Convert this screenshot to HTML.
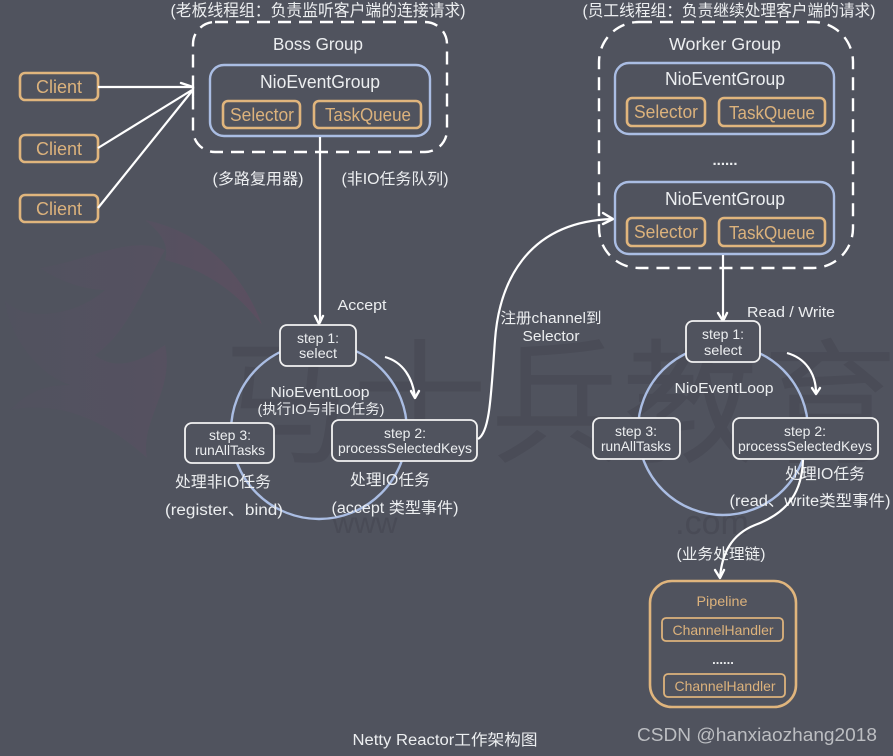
<!DOCTYPE html>
<html><head><meta charset="utf-8"><style>
html,body{margin:0;padding:0;background:#50535e}
svg{display:block;filter:blur(0.35px)}
text{font-family:"Liberation Sans","Noto Sans CJK SC",sans-serif;fill:#eceef0;text-anchor:middle;font-size:15px}
.g{fill:#dcb27c;font-size:18px}
.s{font-size:14px}
.box{fill:none;stroke:#e0b57d;stroke-width:2.6}
.nio{fill:#50535e;stroke:#aabde3;stroke-width:2.4}
.step{fill:#50535e;stroke:#f2f2f2;stroke-width:1.8}
.ln{fill:none;stroke:#fff;stroke-width:2.2}
.dash{fill:none;stroke:#fff;stroke-width:2.4;stroke-dasharray:13 8}
.ring{fill:none;stroke:#aabde3;stroke-width:2.4}
.hd{fill:none;stroke:#fff;stroke-width:2.4;stroke-linecap:round;stroke-linejoin:round}
.wm{font-size:135px;fill:#4a4c57}
</style></head><body>
<svg width="893" height="756" viewBox="0 0 893 756" xmlns="http://www.w3.org/2000/svg">
<defs><linearGradient id="lg" x1="0" y1="0" x2="1" y2="0"><stop offset="0" stop-color="#51525f"/><stop offset="0.55" stop-color="#555160"/><stop offset="1" stop-color="#5b4f60"/></linearGradient></defs>
<rect width="893" height="756" fill="#50535e"/>

<!-- watermark -->
<path d="M145 220C195 230 240 265 262 325C235 290 205 270 165 260C170 245 160 232 145 220ZM165 250C130 235 90 260 40 268C65 285 90 290 105 290C70 320 20 320 5 300C10 340 40 375 70 385C40 385 25 395 10 410C60 400 105 420 147 458C140 420 175 390 165 345C150 355 120 375 95 355C125 335 140 295 165 250Z" fill="url(#lg)"/>
<text class="wm" x="282" y="452">马</text>
<text class="wm" x="420" y="452">士</text>
<text class="wm" x="558" y="452">兵</text>
<text class="wm" x="690" y="452">教</text>
<text class="wm" x="830" y="452">育</text>
<text x="365" y="533" style="font-size:30px;fill:#494b56">www</text>
<text x="712" y="534" style="font-size:34px;fill:#494b56">.com</text>

<!-- top labels -->
<text x="318" y="16" style="font-size:16.5px" textLength="295" lengthAdjust="spacingAndGlyphs">(老板线程组：负责监听客户端的连接请求)</text>
<text x="729" y="16" style="font-size:16px" textLength="293" lengthAdjust="spacingAndGlyphs">(员工线程组：负责继续处理客户端的请求)</text>

<!-- boss group -->
<rect class="dash" x="193" y="22" width="254" height="130" rx="22"/>
<text x="318" y="50" style="font-size:17.5px" textLength="90" lengthAdjust="spacingAndGlyphs">Boss Group</text>
<rect class="nio" x="210" y="65" width="220" height="71" rx="14"/>
<text x="320" y="88" style="font-size:18px" textLength="120" lengthAdjust="spacingAndGlyphs">NioEventGroup</text>
<rect class="box" x="223" y="101" width="77" height="27" rx="5"/>
<text class="g" x="262" y="121" textLength="64" lengthAdjust="spacingAndGlyphs">Selector</text>
<rect class="box" x="314" y="101" width="107" height="27" rx="5"/>
<text class="g" x="368" y="121" textLength="86" lengthAdjust="spacingAndGlyphs">TaskQueue</text>

<!-- clients -->
<rect class="box" x="20" y="73" width="78" height="27" rx="5"/>
<text class="g" x="59" y="93" textLength="46" lengthAdjust="spacingAndGlyphs">Client</text>
<rect class="box" x="20" y="135" width="78" height="27" rx="5"/>
<text class="g" x="59" y="155" textLength="46" lengthAdjust="spacingAndGlyphs">Client</text>
<rect class="box" x="20" y="195" width="78" height="27" rx="5"/>
<text class="g" x="59" y="215" textLength="46" lengthAdjust="spacingAndGlyphs">Client</text>
<path class="ln" d="M98 87H192M98 148L192 90M98 208L192 91"/>
<path class="hd" d="M181 83L193 87L193 96"/>

<!-- boss down -->
<text x="258" y="184" style="font-size:15.5px" textLength="91" lengthAdjust="spacingAndGlyphs">(多路复用器)</text>
<text x="395" y="184" style="font-size:15.5px" textLength="107" lengthAdjust="spacingAndGlyphs">(非IO任务队列)</text>
<path class="ln" d="M320 137V323"/>
<path class="hd" d="M315 316L319 324L323 316"/>
<text x="362" y="310" style="font-size:15px" textLength="49" lengthAdjust="spacingAndGlyphs">Accept</text>

<!-- left loop -->
<circle class="ring" cx="319" cy="431" r="88"/>
<rect class="step" x="280" y="325" width="76" height="41" rx="7"/>
<text class="s" x="318" y="343" textLength="42" lengthAdjust="spacingAndGlyphs">step 1:</text>
<text class="s" x="318" y="358" textLength="38" lengthAdjust="spacingAndGlyphs">select</text>
<text x="320" y="397" style="font-size:15px" textLength="99" lengthAdjust="spacingAndGlyphs">NioEventLoop</text>
<text x="321" y="414" style="font-size:14px" textLength="127" lengthAdjust="spacingAndGlyphs">(执行IO与非IO任务)</text>
<rect class="step" x="185" y="423" width="89" height="40" rx="7"/>
<text class="s" x="230" y="440" textLength="42" lengthAdjust="spacingAndGlyphs">step 3:</text>
<text class="s" x="230" y="455" textLength="70" lengthAdjust="spacingAndGlyphs">runAllTasks</text>
<rect class="step" x="332" y="420" width="145" height="41" rx="7"/>
<text class="s" x="405" y="438" textLength="42" lengthAdjust="spacingAndGlyphs">step 2:</text>
<text class="s" x="405" y="453" textLength="134" lengthAdjust="spacingAndGlyphs">processSelectedKeys</text>
<path class="ln" d="M385 357C403 362 413 378 415 398"/>
<path class="hd" d="M411 391L415 398L419 391"/>
<text x="223" y="487" style="font-size:15.5px" textLength="96" lengthAdjust="spacingAndGlyphs">处理非IO任务</text>
<text x="224" y="515" style="font-size:15.5px" textLength="118" lengthAdjust="spacingAndGlyphs">(register、bind)</text>
<text x="390" y="485" style="font-size:15.5px" textLength="80" lengthAdjust="spacingAndGlyphs">处理IO任务</text>
<text x="395" y="513" style="font-size:15.5px" textLength="127" lengthAdjust="spacingAndGlyphs">(accept 类型事件)</text>

<!-- register curve -->
<path class="ln" d="M478 439C490 432 491 395 495 340C499 285 525 222 612 219"/>
<path class="hd" d="M603 213L613 219L603 224"/>
<text x="551" y="323" style="font-size:15px" textLength="101" lengthAdjust="spacingAndGlyphs">注册channel到</text>
<text x="551" y="341" style="font-size:15px" textLength="57" lengthAdjust="spacingAndGlyphs">Selector</text>

<!-- worker group -->
<rect class="dash" x="599" y="22" width="254" height="246" rx="40"/>
<text x="725" y="50" style="font-size:17.5px" textLength="112" lengthAdjust="spacingAndGlyphs">Worker Group</text>
<rect class="nio" x="615" y="63" width="219" height="71" rx="14"/>
<text x="725" y="85" style="font-size:18px" textLength="120" lengthAdjust="spacingAndGlyphs">NioEventGroup</text>
<rect class="box" x="627" y="98" width="78" height="28" rx="5"/>
<text class="g" x="666" y="118" textLength="64" lengthAdjust="spacingAndGlyphs">Selector</text>
<rect class="box" x="719" y="98" width="106" height="28" rx="5"/>
<text class="g" x="772" y="119" textLength="86" lengthAdjust="spacingAndGlyphs">TaskQueue</text>
<text x="725" y="165" style="font-size:15px;font-weight:bold">......</text>
<rect class="nio" x="615" y="182" width="219" height="72" rx="14"/>
<text x="725" y="205" style="font-size:18px" textLength="120" lengthAdjust="spacingAndGlyphs">NioEventGroup</text>
<rect class="box" x="627" y="218" width="78" height="28" rx="5"/>
<text class="g" x="666" y="238" textLength="64" lengthAdjust="spacingAndGlyphs">Selector</text>
<rect class="box" x="719" y="218" width="106" height="28" rx="5"/>
<text class="g" x="772" y="239" textLength="86" lengthAdjust="spacingAndGlyphs">TaskQueue</text>

<path class="ln" d="M723 255V320"/>
<path class="hd" d="M718 313L723 321L727 313"/>
<text x="791" y="317" style="font-size:15px" textLength="88" lengthAdjust="spacingAndGlyphs">Read / Write</text>

<!-- right loop -->
<circle class="ring" cx="723" cy="430" r="85"/>
<rect class="step" x="686" y="321" width="74" height="41" rx="7"/>
<text class="s" x="723" y="339" textLength="42" lengthAdjust="spacingAndGlyphs">step 1:</text>
<text class="s" x="723" y="355" textLength="38" lengthAdjust="spacingAndGlyphs">select</text>
<text x="724" y="393" style="font-size:15px" textLength="99" lengthAdjust="spacingAndGlyphs">NioEventLoop</text>
<rect class="step" x="593" y="418" width="87" height="41" rx="7"/>
<text class="s" x="636" y="436" textLength="42" lengthAdjust="spacingAndGlyphs">step 3:</text>
<text class="s" x="636" y="451" textLength="70" lengthAdjust="spacingAndGlyphs">runAllTasks</text>
<rect class="step" x="733" y="418" width="145" height="41" rx="7"/>
<text class="s" x="805" y="436" textLength="42" lengthAdjust="spacingAndGlyphs">step 2:</text>
<text class="s" x="805" y="451" textLength="134" lengthAdjust="spacingAndGlyphs">processSelectedKeys</text>
<path class="ln" d="M787 353C805 358 816 373 816 393"/>
<path class="hd" d="M812 388L816 394L820 388"/>
<text x="825" y="479" style="font-size:15.5px" textLength="80" lengthAdjust="spacingAndGlyphs">处理IO任务</text>
<text x="810" y="506" style="font-size:15.5px" textLength="161" lengthAdjust="spacingAndGlyphs">(read、write类型事件)</text>

<!-- pipeline curve -->
<path class="ln" d="M803 460C802 490 790 512 755 525C730 535 722 555 720 577"/>
<path class="hd" d="M715 570L720 578L724 570"/>
<text x="721" y="559" style="font-size:15px" textLength="89" lengthAdjust="spacingAndGlyphs">(业务处理链)</text>

<!-- pipeline -->
<rect class="box" x="650" y="581" width="146" height="126" rx="22"/>
<text x="722" y="606" style="font-size:14px;fill:#dcb27c" textLength="51" lengthAdjust="spacingAndGlyphs">Pipeline</text>
<rect x="662" y="618" width="121" height="23" rx="4" fill="none" stroke="#dcb27c" stroke-width="1.8"/>
<text x="723" y="635" style="font-size:14px;fill:#dcb27c" textLength="101" lengthAdjust="spacingAndGlyphs">ChannelHandler</text>
<text x="723" y="664" style="font-size:13px;font-weight:bold">......</text>
<rect x="664" y="674" width="121" height="23" rx="4" fill="none" stroke="#dcb27c" stroke-width="1.8"/>
<text x="725" y="691" style="font-size:14px;fill:#dcb27c" textLength="101" lengthAdjust="spacingAndGlyphs">ChannelHandler</text>

<text x="445" y="745" style="font-size:15.5px" textLength="185" lengthAdjust="spacingAndGlyphs">Netty Reactor工作架构图</text>
<text x="757" y="741" style="font-size:18px;fill:#bcbec2" textLength="240" lengthAdjust="spacingAndGlyphs">CSDN @hanxiaozhang2018</text>
</svg>
</body></html>
